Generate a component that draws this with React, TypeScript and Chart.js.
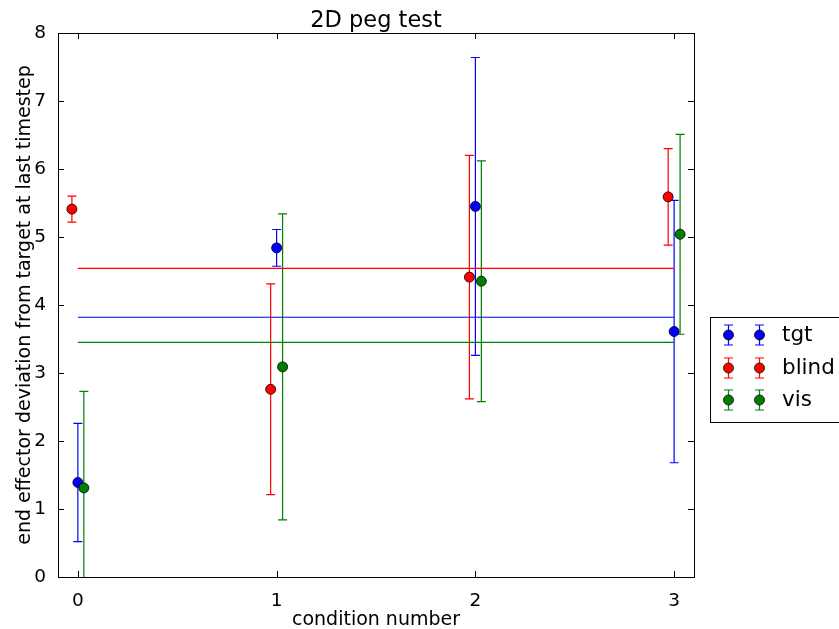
import { useEffect, useRef } from 'react';
import { Chart, registerables } from 'chart.js';

Chart.register(...registerables);

// ---- data ----
const conditionTicks = [0, 1, 2, 3];
const yTicks = [0, 1, 2, 3, 4, 5, 6, 7, 8];

const tgtX = [0, 1, 2, 3];
const tgtMean = [1.39, 4.84, 5.45, 3.61];
const tgtErr = [0.87, 0.27, 2.19, 1.93];

const blindX = [-0.03, 0.97, 1.97, 2.97];
const blindMean = [5.41, 2.76, 4.41, 5.59];
const blindErr = [0.19, 1.55, 1.79, 0.71];

const visX = [0.03, 1.03, 2.03, 3.03];
const visMean = [1.31, 3.09, 4.35, 5.04];
const visErr = [1.42, 2.25, 1.77, 1.47];

const seriesNames = ['tgt', 'blind', 'vis'];
const overallMean = [3.82, 4.54, 3.45];
const meanLineX = [0, 3];

const COLORS = ['#0000ff', '#ff0000', '#008000'];
const FONT = "'DejaVu Sans', sans-serif";

const series = [
  { name: seriesNames[0], x: tgtX, mean: tgtMean, err: tgtErr, color: COLORS[0] },
  { name: seriesNames[1], x: blindX, mean: blindMean, err: blindErr, color: COLORS[1] },
  { name: seriesNames[2], x: visX, mean: visMean, err: visErr, color: COLORS[2] },
];

function drawErrGlyph(ctx: CanvasRenderingContext2D, px: number, lo: number, hi: number, color: string) {
  ctx.strokeStyle = color;
  ctx.lineWidth = 1.2;
  ctx.beginPath();
  ctx.moveTo(px, lo);
  ctx.lineTo(px, hi);
  ctx.moveTo(px - 4.5, lo);
  ctx.lineTo(px + 4.5, lo);
  ctx.moveTo(px - 4.5, hi);
  ctx.lineTo(px + 4.5, hi);
  ctx.stroke();
}

const decorPlugin = {
  id: 'decor',
  beforeDatasetsDraw(chart: any) {
    const { ctx, chartArea: a, scales } = chart;
    const xs = scales.x;
    const ys = scales.y;
    ctx.save();
    ctx.beginPath();
    ctx.rect(a.left, a.top, a.right - a.left, a.bottom - a.top);
    ctx.clip();
    series.forEach((s) => {
      s.x.forEach((xv, i) => {
        const px = xs.getPixelForValue(xv);
        const lo = ys.getPixelForValue(s.mean[i] - s.err[i]);
        const hi = ys.getPixelForValue(s.mean[i] + s.err[i]);
        drawErrGlyph(ctx, px, lo, hi, s.color);
      });
    });
    ctx.restore();
  },
  afterDraw(chart: any) {
    const { ctx, chartArea: a, scales } = chart;
    const xs = scales.x;
    const ys = scales.y;
    ctx.save();
    // frame
    ctx.strokeStyle = '#000';
    ctx.lineWidth = 1;
    ctx.strokeRect(a.left + 0.5, a.top + 0.5, a.right - a.left, a.bottom - a.top);
    // inward ticks on all sides
    const tl = 6;
    ctx.beginPath();
    conditionTicks.forEach((v) => {
      const px = Math.round(xs.getPixelForValue(v)) + 0.5;
      ctx.moveTo(px, a.bottom);
      ctx.lineTo(px, a.bottom - tl);
      ctx.moveTo(px, a.top);
      ctx.lineTo(px, a.top + tl);
    });
    yTicks.forEach((v) => {
      const py = Math.round(ys.getPixelForValue(v)) + 0.5;
      ctx.moveTo(a.left, py);
      ctx.lineTo(a.left + tl, py);
      ctx.moveTo(a.right, py);
      ctx.lineTo(a.right - tl, py);
    });
    ctx.stroke();

    // title
    ctx.fillStyle = '#000';
    ctx.textAlign = 'center';
    ctx.textBaseline = 'alphabetic';
    ctx.font = `22.5px ${FONT}`;
    ctx.fillText('2D peg test', (a.left + a.right) / 2, 27);

    // x label
    ctx.font = `19px ${FONT}`;
    ctx.fillText('condition number', (a.left + a.right) / 2, 625);

    // y label
    ctx.save();
    ctx.translate(30, (a.top + a.bottom) / 2);
    ctx.rotate(-Math.PI / 2);
    ctx.font = `19px ${FONT}`;
    ctx.fillText('end effector deviation from target at last timestep', 0, 0);
    ctx.restore();

    // legend
    const lx = 710.5;
    const ly = 317.5;
    ctx.fillStyle = '#fff';
    ctx.fillRect(lx, ly, 200, 105);
    ctx.strokeStyle = '#000';
    ctx.lineWidth = 1;
    ctx.strokeRect(lx, ly, 200, 105);
    const rows = [335, 368, 400];
    series.forEach((s, i) => {
      const cy = rows[i];
      [728.5, 759.5].forEach((gx) => {
        drawErrGlyph(ctx, gx, cy + 10, cy - 10, s.color);
        ctx.beginPath();
        ctx.arc(gx, cy, 5, 0, Math.PI * 2);
        ctx.fillStyle = s.color;
        ctx.fill();
        ctx.lineWidth = 0.8;
        ctx.strokeStyle = '#000';
        ctx.stroke();
      });
      ctx.fillStyle = '#000';
      ctx.textAlign = 'left';
      ctx.textBaseline = 'middle';
      ctx.font = `21.5px ${FONT}`;
      ctx.fillText(s.name, 782, cy);
    });
    ctx.restore();
  },
};

export default function App() {
  const ref = useRef<HTMLCanvasElement | null>(null);

  useEffect(() => {
    if (!ref.current) return;
    const datasets: any[] = [];
    series.forEach((s, i) => {
      datasets.push({
        type: 'scatter',
        label: s.name,
        data: s.x.map((xv, j) => ({ x: xv, y: s.mean[j] })),
        backgroundColor: s.color,
        borderColor: '#000',
        borderWidth: 0.8,
        pointRadius: 5,
        pointHoverRadius: 5,
        order: 2 - i,
        clip: false,
      });
    });
    series.forEach((s, i) => {
      datasets.push({
        type: 'line',
        label: s.name + ' mean',
        data: meanLineX.map((xv) => ({ x: xv, y: overallMean[i] })),
        borderColor: s.color,
        borderWidth: 1.2,
        pointRadius: 0,
        fill: false,
        order: 5,
      });
    });

    const chart = new Chart(ref.current, {
      type: 'scatter',
      data: { datasets },
      options: {
        animation: false,
        responsive: true,
        maintainAspectRatio: false,
        layout: { padding: { top: 33, right: 145, bottom: 0, left: 0 } },
        plugins: {
          legend: { display: false },
          tooltip: { enabled: false },
          title: { display: false },
        },
        scales: {
          x: {
            type: 'linear',
            min: -0.1,
            max: 3.1,
            grid: { display: false },
            border: { display: false },
            ticks: {
              color: '#000',
              font: { family: FONT, size: 18.5 },
              padding: 5,
              maxRotation: 0,
            },
            afterBuildTicks: (scale: any) => {
              scale.ticks = conditionTicks.map((v) => ({ value: v }));
            },
            afterFit: (scale: any) => {
              scale.height = 52;
            },
          },
          y: {
            type: 'linear',
            min: 0,
            max: 8,
            grid: { display: false },
            border: { display: false },
            ticks: {
              color: '#000',
              font: { family: FONT, size: 18.5 },
              padding: 4,
            },
            afterBuildTicks: (scale: any) => {
              scale.ticks = yTicks.map((v) => ({ value: v }));
            },
            afterFit: (scale: any) => {
              scale.width = 58;
            },
          },
        },
      } as any,
      plugins: [decorPlugin],
    });
    return () => chart.destroy();
  }, []);

  return (
    <div style={{ position: 'absolute', left: 0, top: 0, width: 839, height: 629, background: '#fff' }}>
      <canvas ref={ref} />
    </div>
  );
}
